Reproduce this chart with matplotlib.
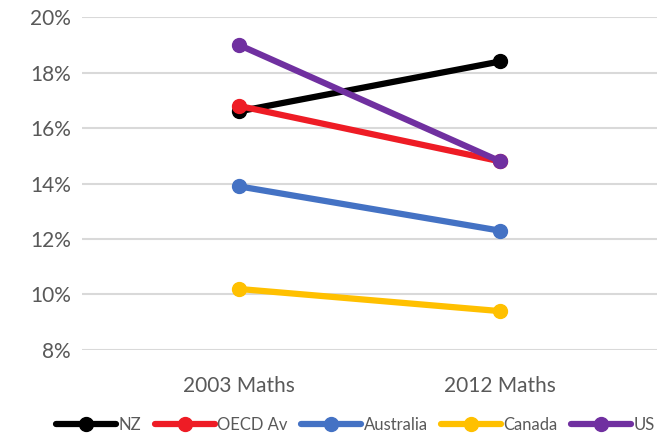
import matplotlib
matplotlib.use("Agg")
import matplotlib.pyplot as plt
from matplotlib.ticker import FuncFormatter

categories = ["2003 Maths", "2012 Maths"]
series_names = ["NZ", "OECD Av", "Australia", "Canada", "US"]
nz = [16.6, 18.4]
oecd = [16.8, 14.8]
australia = [13.9, 12.3]
canada = [10.2, 9.4]
us = [19.0, 14.8]
colors = ["#000000", "#ee1c25", "#4472c4", "#ffc000", "#7030a0"]

plt.rcParams['font.family'] = ['Lato', 'DejaVu Sans']
fig = plt.figure(figsize=(6.65, 4.38), dpi=100)
ax = fig.add_axes([0.123, 0.201, 0.865, 0.760])

x = list(range(len(categories)))
for name, vals, c in zip(series_names, [nz, oecd, australia, canada, us], colors):
    ax.plot(x, vals, color=c, lw=4.5, marker='o', ms=10, label=name,
            solid_capstyle='round', zorder=3)

ax.set_xlim(-0.6, 1.6)
ax.set_ylim(8, 20)
ax.set_yticks(range(8, 21, 2))
ax.yaxis.set_major_formatter(FuncFormatter(lambda v, p: f"{v:.0f}%"))
ax.set_xticks(x)
ax.set_xticklabels(categories)
ax.grid(axis='y', color='#d9d9d9', lw=1.5)
ax.set_axisbelow(True)
for s in ax.spines.values():
    s.set_visible(False)
ax.tick_params(length=0, labelsize=15, colors='#595959', pad=8)
ax.tick_params(axis='x', pad=19)

fig.legend(loc='lower center', bbox_to_anchor=(0.535, -0.023), ncol=5, frameon=False,
           fontsize=12, handlelength=3.6, columnspacing=0.8, handletextpad=0.15,
           labelcolor='#595959')
fig.savefig("out.png", dpi=100)
